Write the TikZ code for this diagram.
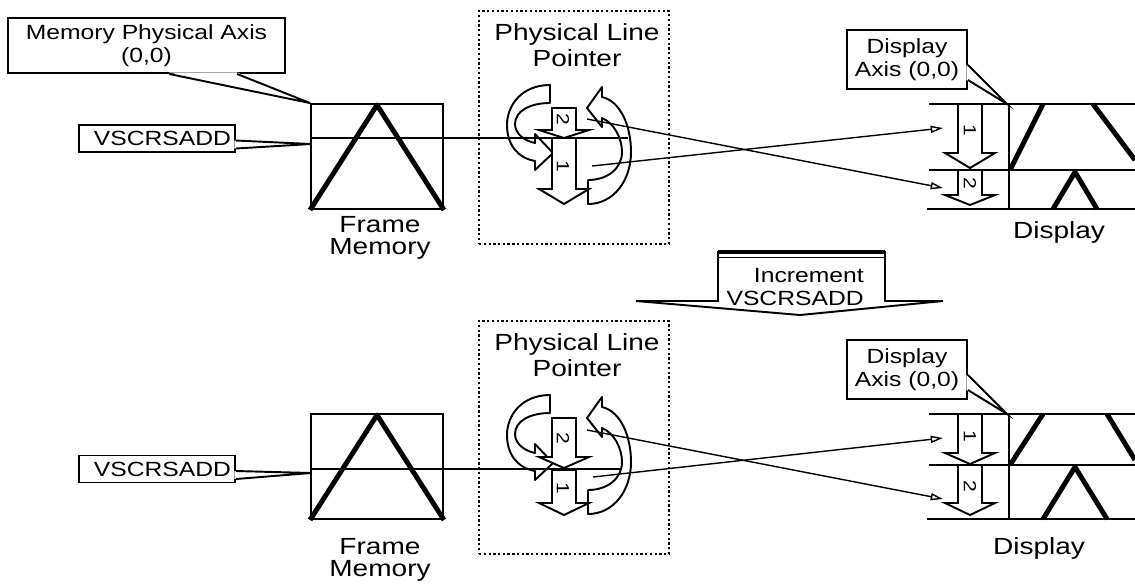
\documentclass[tikz,border=0pt]{standalone}
\usepackage{fontspec}
\setmainfont[FakeStretch=1.2]{Liberation Sans}
\usetikzlibrary{arrows.meta, calc}

\newcommand{\callfont}{\fontsize{11.7}{13}\selectfont}
\newcommand{\lblfont}{\fontsize{13.3}{15}\selectfont}
\newcommand{\fmfont}{\fontsize{13.3}{12.5}\selectfont}
\newcommand{\numfont}{\fontsize{10}{10}\selectfont}

% block arrow: x, shaft top, head base, tip
\newcommand{\blockarr}[4]{%
  \draw[barrow] (#1-12,#2) -- (#1+12,#2) -- (#1+12,#3) -- (#1+25,#3)
    -- (#1,#4) -- (#1-25,#3) -- (#1-12,#3) -- cycle;}

% callout wedge: base a, base b, tip, shift into the box
\newcommand{\calloutptr}[4]{%
  \fill[white] ($(#1)+#4$) -- (#3) -- ($(#2)+#4$) -- cycle;
  \draw[edge] (#1) -- (#3) -- (#2);}

\begin{document}
\begin{tikzpicture}[
    x=0.02cm, y=-0.02cm,
    edge/.style={line width=1.1pt, line join=miter},
    hline/.style={line width=0.95pt},
    callout/.style={draw, fill=white, line width=1.1pt, font=\callfont, align=center, inner sep=1pt},
    lbl/.style={font=\lblfont, align=center, inner sep=0pt},
    barrow/.style={draw, fill=white, line width=1.1pt, line join=miter},
    curvarr/.style={draw, fill=white, line width=1.1pt, line join=round},
    dig/.style={font=\numfont, rotate=-90, inner sep=0pt},
    heavy/.style={line width=2.8pt, line join=round},
    conn/.style={line width=0.8pt, -{Triangle[open, length=7pt, width=4pt]}},
    dotbox/.style={draw, line width=1.6pt, dash pattern=on 1.3pt off 1.4pt,
        minimum width=3.8cm, minimum height=4.66cm, inner sep=0pt},
    membox/.style={draw, line width=1.1pt, minimum width=2.64cm, minimum height=2.1cm, inner sep=0pt}
]

\useasboundingbox (0,0) rectangle (1135,583);

% Memory axis callout
\node[callout, minimum width=5.54cm, minimum height=1.1cm] (mpa) at (146.5,45.5) {Memory Physical Axis\\(0,0)};

% Parts shared by both rows
\foreach \row/\dy in {1/0, 2/310} {
    % frame memory
    \node[membox] (fm\row) at (377,156.5+\dy) {};
    \draw[heavy] (fm\row.south west) -- (377,105+\dy) -- (fm\row.south east);

    % physical line pointer
    \node[dotbox] (plp\row) at (574,127.5+\dy) {};
    \node[lbl] (plpt\row) at (577,45+\dy) {Physical Line\\Pointer};
    \begin{scope}[shift={(0,\dy)}]
        \draw[curvarr] (550,85) .. controls (522,85) and (507,105) .. (507,125)
            .. controls (507,145) and (518,158) .. (535,161) -- (535,170) -- (553,153)
            -- (535,134) -- (535,143) .. controls (525,141) and (515,134) .. (515,124)
            .. controls (515,111) and (530,103) .. (550,103) -- cycle;
        \draw[curvarr] (588,204) .. controls (614,204) and (631,180) .. (631,152)
            .. controls (631,125) and (620,101) .. (602,97) -- (602,87) -- (587,108)
            -- (602,127) -- (602,118) .. controls (614,123) and (622,138) .. (622,152)
            .. controls (622,168) and (608,180) .. (588,180) -- cycle;
    \end{scope}

    % display frame
    \draw[edge] (929,104+\dy) -- (1135,104+\dy);
    \draw[edge] (927,209+\dy) -- (1135,209+\dy);
    \draw[edge] (1009,104+\dy) -- (1009,209+\dy);

    % display axis callout
    \node[callout, minimum width=2.4cm, minimum height=1.18cm] (dac\row) at (907,59.5+\dy) {Display\\Axis (0,0)};
    \coordinate (dpa\row) at ($(dac\row.east)+(0,5.5)$);
    \coordinate (dpb\row) at ($(dac\row.east)+(0,20.5)$);
    \coordinate (dc\row) at (1007,104+\dy);
    \calloutptr{dpa\row}{dpb\row}{dc\row}{(-1.5,0)}
}

\coordinate (ma) at ($(mpa.south west)+(162,0)$);
\coordinate (mb) at ($(mpa.south west)+(230,0)$);
\calloutptr{ma}{mb}{fm1.north west}{(0,-1.5)}

% ---- top row ----
\node[callout, minimum width=3.12cm, minimum height=0.54cm, text width=2.96cm, align=right, inner xsep=0.08cm] (vs1) at (157,138.5) {VSCRSADD};
\coordinate (va1) at ($(vs1.east)+(0,2)$);
\coordinate (vb1) at ($(vs1.east)+(0,10)$);
\coordinate (vt1) at (311,144);
\calloutptr{va1}{vb1}{vt1}{(-1.5,0)}

\blockarr{564}{108}{130}{138}
\blockarr{564}{138}{189}{204}
\node[dig] (p2a) at (563,119) {2};
\node[dig] (p1a) at (563,166) {1};

\coordinate (hl1) at (311,138);
\coordinate (hr1) at (628,138);
\draw[hline] (hl1) -- (hr1);

\draw[edge] (929,170) -- (1135,170);
\blockarr{970}{104}{153}{168}
\blockarr{970}{170}{195}{205}
\node[dig] (d1a) at (970,130) {1};
\node[dig] (d2a) at (970,183) {2};
\draw[heavy] (1010,170) -- (1043,104);
\draw[heavy] (1093,104) -- (1135,160);
\draw[heavy] (1053,209) -- (1075,172) -- (1097,209);

\coordinate (s1a) at (592,166);
\coordinate (t1a) at (943,128);
\coordinate (s2a) at (587,119);
\coordinate (t2a) at (943,188);
\draw[conn] (s1a) -- (t1a);
\draw[conn] (s2a) -- (t2a);

\node[lbl, font=\fmfont] (fml1) at (380,238) {Frame\\Memory};
\node[lbl] (dsl1) at (1059,232) {Display};

% ---- increment arrow ----
\draw[barrow] (718,252) -- (885,252) -- (885,301) -- (943,301) -- (800,315)
    -- (636,301) -- (718,301) -- cycle;
\draw[line width=2.2pt] (718,252) -- (885,252);
\draw[line width=0.8pt] (718,257.5) -- (885,257.5);
\node[font=\callfont, align=right, anchor=east, inner sep=0pt] (inc) at (864,287) {Increment\\VSCRSADD};

% ---- bottom row ----
\node[callout, minimum width=3.12cm, minimum height=0.54cm, text width=2.96cm, align=right, inner xsep=0.08cm] (vs2) at (157,469) {VSCRSADD};
\coordinate (va2) at ($(vs2.east)+(0,2)$);
\coordinate (vb2) at ($(vs2.east)+(0,10)$);
\coordinate (vt2) at (311,473);
\calloutptr{va2}{vb2}{vt2}{(-1.5,0)}

\blockarr{564}{418}{457}{468}
\blockarr{564}{470}{503}{515}
\node[dig] (p2b) at (563,438) {2};
\node[dig] (p1b) at (563,488) {1};

\coordinate (hl2) at (311,469);
\coordinate (hr2) at (622,469);
\draw[hline] (hl2) -- (hr2);

\draw[edge] (929,465) -- (1135,465);
\blockarr{970}{414}{453}{464}
\blockarr{970}{465}{503}{515}
\node[dig] (d1b) at (970,436) {1};
\node[dig] (d2b) at (970,486) {2};
\draw[heavy] (1010,465) -- (1043,414);
\draw[heavy] (1107,414) -- (1135,460);
\draw[heavy] (1043,519) -- (1075,467) -- (1107,519);

\coordinate (s1b) at (593,477);
\coordinate (t1b) at (943,438);
\coordinate (s2b) at (587,430);
\coordinate (t2b) at (943,499);
\draw[conn] (s1b) -- (t1b);
\draw[conn] (s2b) -- (t2b);

\node[lbl, font=\fmfont] (fml2) at (380,560) {Frame\\Memory};
\node[lbl] (dsl2) at (1039,548) {Display};

\end{tikzpicture}
\end{document}
